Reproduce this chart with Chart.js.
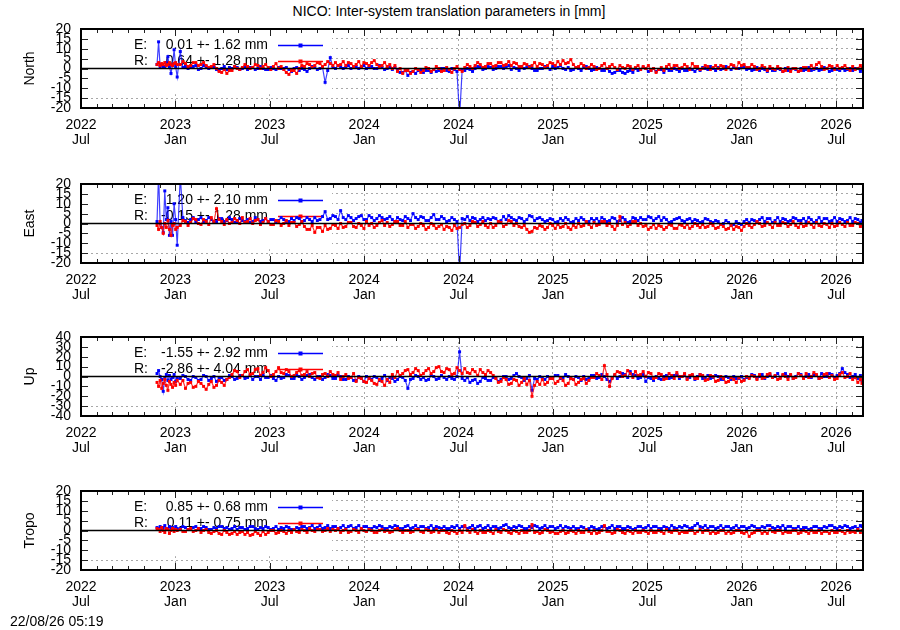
<!DOCTYPE html>
<html>
<head>
<meta charset="utf-8">
<title>NICO inter-system translation</title>
<script src="https://cdn.jsdelivr.net/npm/chart.js@4.4.0/dist/chart.umd.min.js"></script>
<style>
  body { margin: 0; background: #fff; }
  #wrap { position: relative; width: 900px; height: 630px; font-family: "Liberation Sans", Arial, sans-serif; color: #000; }
  #wrap canvas { position: absolute; left: 0; }
  .title { position: absolute; left: 0; top: 3px; width: 898px; text-align: center; font-size: 14px; }
  .stamp { position: absolute; left: 10px; top: 613px; font-size: 14px; }
</style>
</head>
<body>
<div id="wrap">
  <div class="title">NICO: Inter-system translation parameters in [mm]</div>
  <canvas id="cNorth" width="900" height="154" style="top:9px"></canvas>
  <canvas id="cEast" width="900" height="154" style="top:164px"></canvas>
  <canvas id="cUp" width="900" height="154" style="top:317px"></canvas>
  <canvas id="cTropo" width="900" height="154" style="top:471px"></canvas>
  <div class="stamp">22/08/26 05:19</div>
</div>
<script>
// sample dates, in days since 2022-07-01
const mainDay = [147,150,153,156,159,162,165,168,171,174,177,180,183,186,
  192,202,212,222,232,242,252,262,272,282,
  292,302,312,322,332,342,352,362,372,382,
  392,402,412,422,432,442,452,462,472,482,
  492,502,512,522,532,542,552,562,572,582,
  592,602,612,622,632,642,652,662,672,682,
  692,702,712,722,732,742,752,762,772,782,
  792,802,812,822,832,842,852,862,872,882,
  892,902,912,922,932,942,952,962,972,982,
  992,1002,1012,1022,1032,1042,1052,1062,1072,1082,
  1092,1102,1112,1122,1132,1142,1152,1162,1172,1182,
  1192,1202,1212,1222,1232,1242,1252,1262,1272,1282,
  1292,1302,1312,1322,1332,1342,1352,1362,1372,1382,
  1392,1402,1412,1422,1432,1442,1452,1462,1472,1482,
  1492,1502,1510];
// in-between dates
const midDay = [197,207,217,227,237,247,257,267,277,287,
  297,307,317,327,337,347,357,367,377,387,
  397,407,417,427,437,447,457,467,477,487,
  497,507,517,527,537,547,557,567,577,587,
  597,607,617,627,637,647,657,667,677,687,
  697,707,717,727,737,747,757,767,777,787,
  797,807,817,827,837,847,857,867,877,887,
  897,907,917,927,937,947,957,967,977,987,
  997,1007,1017,1027,1037,1047,1057,1067,1077,1087,
  1097,1107,1117,1127,1137,1147,1157,1167,1177,1187,
  1197,1207,1217,1227,1237,1247,1257,1267,1277,1287,
  1297,1307,1317,1327,1337,1347,1357,1367,1377,1387,
  1397,1407,1417,1427,1437,1447,1457,1467,1477,1487,
  1497,1507];

const xTickDays = [0, 182.5, 365, 547.5, 730, 912.5, 1095, 1277.5, 1460];
const xTickLabels = [['2022','Jul'],['2023','Jan'],['2023','Jul'],['2024','Jan'],['2024','Jul'],
  ['2025','Jan'],['2025','Jul'],['2026','Jan'],['2026','Jul']];

// North [mm]
const northE = [2,13.5,1,2,0.5,1,3,6,1,-2.5,2,9.5,1,-4.3,
  8.6,1,0.5,1.5,0,1,0.5,-0.5,0,-0.5,
  0,0.5,0,-0.5,0.5,0,0,-0.5,0,0.5,
  0,-0.5,0,-1,-0.5,0,0.5,0,-7,5.5,
  0,1,0.5,0,1,0.5,0,1,0,0.5,
  0,-0.5,-1,-2,-3.5,-1.5,-1,-2,-1,-0.5,
  -1,0,-1.5,-0.5,-25,-1,-0.5,0,0.5,0,
  0.5,0,1,0.5,-0.5,0,1,0.5,0,-1,
  0,0.5,1,0.5,0,0.5,-0.5,0,0.5,0,
  -0.5,0,-1,-1.5,-2,-1,-2.5,-1,0,-0.5,
  0,-1,-1.5,-0.5,0,-1,-0.5,0,-1,-0.5,
  0,0.5,-0.5,0,0.5,0,0.5,1,0,0.5,
  0,-0.5,-1,-0.5,0,-1,-0.5,0,-1,-0.5,
  0,-0.5,-1,0,-0.5,0,-1,-0.5,0,-0.5,
  -1,0,-0.5];
const northEMid = [0.5,0,1,-0.5,1.5,0,0.5,-1,1,0.5,
  1,-0.5,0.5,0.5,-0.5,1,-0.5,0.5,-0.5,0,
  0.5,-1.5,0.5,0,-1.5,1,-0.5,0.5,-1,0.5,
  1.5,0,1.5,1,0,1.5,1,0,1.5,-0.5,
  0.5,0.5,-2,-1,-2,-2.5,-0.5,-1,-2,-1.5,
  0,-1,0,-1.5,-0.5,0,-1.5,1,-0.5,1,
  -0.5,1,0,1.5,0.5,-1,0,1,-1,0,
  1,-0.5,0,1.5,-0.5,-1,0.5,-1,1,-1,
  0.5,-1,0,-2.5,-1,-2,-1.5,-2,-1,0.5,
  -1.5,0,-0.5,-2,-1,0,-1.5,-1,0,-1.5,
  -1,0,1,-1,-0.5,1,-0.5,0,1,-0.5,
  -1,0.5,0,-1.5,-1,0,-1.5,-1,0,-1.5,
  -1,0.5,-0.5,-1,0.5,-1.5,0,-1,-1,0,
  0,-1.5];
const northR = [2,3,1.5,2.5,2,3,1.5,2,3,2,1.5,2.5,3,2,
  2,2.5,1.5,3,2,1.5,1,0,-2,-2.5,
  -1,0,0.5,1,0.5,1.5,1,0.5,1,0,
  -0.5,-3,-1,0,1,2,1.5,2.5,2,2.5,
  3,2,1.5,2.5,2,1,2.5,3,2,1.5,
  1,0,-1.5,-2.5,-1,-1.5,-0.5,-1,0,-0.5,
  0,-1,-0.5,0,-0.5,0.5,1,1.5,2,1,
  2.5,1.5,3,2,1.5,2.5,1,2,1.5,1,
  2,1.5,2.5,3.5,4,3,2,1,1.5,0.5,
  1,0,2.5,1,0.5,1.5,0,1,0.5,-0.5,
  0,-1,-2,0.5,1,0,1.5,0.5,1,2.5,
  1,0,1,0.5,0,1,0.5,1.5,3,2,
  0.5,1,0,0.5,1,-0.5,0,-1,-1.5,0,
  -1,0.5,1.5,2,1,0,1,1.5,0.5,0,
  1,0,0.5];
const northRMid = [3.5,1,3,1.5,3,0.5,2,-1.5,-0.5,-1,
  1,-0.5,2,0,2,0,2,-0.5,2.5,1,
  -2,-1,-2.5,1.5,2.5,0.5,3,1,3.5,1.5,
  1.5,3.5,3,1,3.5,3,1.5,4,1,3,
  2,1.5,0,-1,-2.5,0,-2,0.5,-1.5,1,
  -1.5,0.5,-2,1,-1.5,2,0,3,0.5,2.5,
  1,3,1.5,3.5,3,1,2.5,0.5,3,2.5,
  0.5,3,1.5,2,2.5,4.5,0.5,2.5,0,2,
  -0.5,1.5,0,2,-0.5,0.5,1.5,-0.5,1.5,1,
  1.5,0,-0.5,-1,2,1.5,0,2,-0.5,1,
  -0.5,1.5,-0.5,1.5,1.5,-0.5,2,0,1.5,0.5,
  2,-0.5,1.5,-1,0,1,-1.5,0.5,0,-1.5,
  0.5,-1,0,3,-0.5,1.5,-0.5,0,1.5,-1,
  -0.5,1.5];

// East [mm]
const eastE = [1,25,0,-2,-4.5,16.5,2,8,-6,1,-6,10,2,-11,
  24,1.5,2,1,3,1.5,2,1,2.5,1.5,
  2,1,1.5,2,1,2,1.5,1,2,1.5,
  2,1,1.5,2.5,1.5,2,3,2,6,2.5,
  3.5,6.5,2,3,2.5,4,2,3,2.5,3,
  2.5,2,3,1.5,2.5,5,2,3,1.5,4.5,
  2,2.5,1.5,2,-25,2,1.5,2.5,2,1.5,
  2,2.5,1.5,2,3,1.5,2.5,2,3.5,2.5,
  2,1.5,2,1,1.5,2,1,1.5,2,1,
  1.5,1,2,1.5,2.5,1.5,2,1,2.5,3,
  2,3,2.5,1.5,2,1,2.5,1.5,2,1,
  1.5,1,2,0.5,1,0,0.5,-0.5,0,1,
  0.5,1.5,2,1,2.5,1.5,1,2,1.5,2.5,
  1.5,1,2,1.5,1,2.5,1.5,1,2,1.5,
  1,2,1.5];
const eastEMid = [3,0.5,3,2,1,3,0.5,2.5,1,3,
  0.5,2.5,1,0.5,3,1,2.5,2,0.5,3,
  1,2.5,3,1,3,1,1.5,3.5,2,4,
  2,3,4,1.5,3.5,2,4,1.5,4,2,
  3.5,1,2,3.5,1.5,3,3.5,1.5,3,2,
  3.5,1,3,1,2.5,3.5,3,1,3,2.5,
  3,1,3.5,4,2,3,1,4,1.5,3,
  1,2.5,0.5,2.5,3,0.5,2.5,3,0.5,2.5,
  2.5,3,1,3,1,3,0.5,3,1.5,2,
  3.5,1.5,3.5,3,0.5,2,3,1,2.5,2,
  0.5,2.5,1,1.5,-0.5,1.5,-1,1,-0.5,2,
  2,0.5,3,2.5,0.5,3,2.5,1,3,1.5,
  2.5,3,0.5,3,2.5,1,3,2.5,1,3,
  2.5,0.5];
const eastR = [-1,-3,1,-2,-5,0,-2,1.5,-3,-6,-1,0,-3,-2,
  -1,1,0.5,2,-0.5,1,3,7.5,1,2,
  0.5,1.5,3,1,0,2,0.5,1,-0.5,1,
  0,-1,0.5,-0.5,-1.5,-3,-4.5,-2,-1,-2.5,
  -1,0,-1.5,0.5,-2,-1,1,0,-1,1.5,
  0.5,-0.5,1,-1,-2,-0.5,-1.5,-1,-2,-1,
  -1.5,-3,-2,-1,-2,0,-1,0.5,-0.5,-1,
  0,-1,0.5,-0.5,1,0,-2,-3,-4,-2.5,
  -1.5,-2,-1,-0.5,-1.5,-2,-1,0,-1,-0.5,
  0.5,-0.5,1,0,-3,3.5,0.5,-0.5,1,0,
  -1,-2,-2.5,-1.5,-2,-1,-2.5,-1,-0.5,-1.5,
  -1,-0.5,-1.5,-1,-2,-1.5,-2.5,-3,-2,-1.5,
  -1,-0.5,0,-1,-0.5,0.5,-1,0,-0.5,-1,
  0,-1,-0.5,0.5,-1.5,-0.5,0,-1,-0.5,0.5,
  -1,0,-0.5];
const eastRMid = [1.5,-1,2.5,0,2,-0.5,1,2,-0.5,0,
  2.5,0,0.5,2.5,1.5,-0.5,2.5,-0.5,1.5,-1,
  1.5,0.5,-1.5,1,-3,-1,-2,-4,-3,-0.5,
  -2.5,-2,0.5,-1.5,0,-2.5,-1,-2,0.5,-1,
  -1.5,1,-1,1,-0.5,-2.5,0,-3,0,-2.5,
  -0.5,-1.5,-3.5,-2.5,-0.5,-2,1,-1.5,1,-2,
  -2,1,-1.5,1.5,-1,-1.5,-1,-4.5,-2,-1,
  -3,0,-2.5,-2,0,-3,-2,-1.5,1,-2,
  -1,1,-1,-1.5,-1,-0.5,-1.5,1,-1,-1.5,
  -3,-0.5,-1,-3,-0.5,-2.5,-0.5,-2,-2.5,0,
  -2,-2,0,-2.5,-0.5,-3,-1,-1.5,-3.5,0,
  -2,1,-1.5,0.5,-2,-1,0.5,-1.5,1,-2,
  -1.5,0.5,-2,-1,0,-2,-1.5,0.5,-1.5,-1,
  0.5,-1.5];

// Up [mm]
const upE = [3,6,0,-3,-15,-2,2,-4,1,-3,-1,2,-5,-2,
  -2,0,-4,-1,-3,0,-2,-5,-1,-3,
  0,-2,1,-1,-3,0,2,-1,-2,0,
  -1,1,-2,0,-1,2,-3,0,-1,1,
  -2,0,-3,-1,-4,-2,0,-3,-1,-2,
  -4,-2,-3,-1,-12,-2,0,-1,-3,0,
  -2,-1,0,-3,25,-4,-6,-3,-5,-2,
  -4,-1,-3,0,-2,3,-1,-2,-14,-3,
  -1,0,-2,1,-1,0,-3,-1,0,-2,
  1,-1,0,-5,1,0,2,5,1,-1,
  -5,-2,0,-3,1,-1,2,0,-2,1,
  0,-2,1,-1,0,-3,-1,0,-2,-3,
  -1,1,0,-2,2,0,-1,3,1,0,
  2,0,-1,1,3,0,2,1,8,2,
  0,-2,-4];
const upEMid = [1,-3,0,-4,1,-4,0,-2,-4,1,
  -3,1,-2,1,0,-3,-1,1,-4,-2,
  2,-2,1,-3,1,-1,0,-3,2,-2,
  1,-3,0,-4,0,-5,-2,0,-4,1,
  -1,-5,0,-4,-3,1,-3,-4,1,-3,
  1,-3,-2,0,-2,-1,-4,-7,-1,-4,
  -1,-5,0,-3,1,0,-4,1,-2,0,
  -3,-2,1,-2,2,-2,0,-4,-3,1,
  -2,2,-3,-1,-2,3,-1,2,-2,2,
  -1,-4,-2,0,-2,1,-2,2,-1,-3,
  2,-1,-2,1,-3,0,-3,-2,0,-1,
  2,-2,2,0,-1,3,1,0,-2,3,
  -1,2,2,-2,0,3,-1,3,4,-1,
  2,1];
const upR = [-6,-10,-4,-12,-7,-3,-9,-14,-5,-8,-11,-6,-9,-4,
  -8,-12,-6,-10,-7,-13,-5,-9,-6,-3,
  2,5,1,7,3,8,4,6,2,9,
  3,5,1,6,2,0,4,-2,3,5,
  1,-3,2,-1,-5,-2,-6,-4,-8,-5,
  -3,2,5,3,7,4,6,3,8,5,
  10,4,7,3,6,8,3,5,7,2,
  4,-2,-5,-3,-7,-4,-6,-8,-20,-5,
  -3,-6,-2,-5,-4,-7,-3,-6,-2,-4,
  -1,1,11,-10,2,4,1,3,5,2,
  0,3,-1,2,-2,1,4,0,-3,2,
  -2,1,-3,0,-4,-2,-5,-3,-1,-4,
  -2,0,2,-1,3,1,-2,0,2,-1,
  1,3,0,2,-1,3,1,-2,4,0,
  -3,-6,-7];
const upRMid = [-4,-7,-11,-5,-10,-8,-11,-4,-9,-1,
  6,-1,5,2,7,1,9,0,5,4,
  7,0,4,1,5,3,-1,2,0,2,
  4,0,-2,3,-1,-5,-2,-7,-3,-9,
  -6,-1,1,6,2,8,1,6,3,9,
  5,8,2,9,3,4,7,1,4,6,
  1,-6,-1,-8,-3,-9,-2,-4,-9,-8,
  -8,-2,-7,-1,-9,-2,-8,-3,-7,-1,
  3,-3,2,-2,5,0,6,-1,1,5,
  4,-2,3,-3,3,-2,0,3,1,-2,
  2,-4,1,-5,0,-6,-1,-6,-5,0,
  1,-3,-2,2,-1,-3,2,-3,-2,3,
  -2,-1,4,-2,2,-1,-3,2,-1,3,
  -1,-3];

// Tropo [mm]
const tropoE = [1.5,1,2,0.5,1.5,2.5,1,0.5,2,1,1.5,0.5,2,1,
  1,1.5,0.5,2,1,1.5,0.5,1,2,1.5,
  1,0.5,1.5,1,2,0.5,1,1.5,1,0.5,
  1,1.5,0.5,1,2,1.5,1,2.5,1.5,1,
  2,1.5,1,2.5,1.5,1,2,1,1.5,2,
  1,1.5,2,1,2.5,1.5,1,2,1.5,1,
  1.5,2,1,1.5,1,2,1.5,1,2.5,1.5,
  1,2,1.5,3,1,1.5,2,1,1.5,2,
  1.5,1,2,1.5,1,1.5,2,1,1.5,1,
  1.5,1,2,1.5,1,2,1,1.5,1,2,
  1.5,1,2,1,1.5,2.5,1,1.5,2,1.5,
  3.5,1.5,1,2,1.5,1,2,1.5,1,2,
  1.5,2,1,1.5,2.5,1,1.5,1,2,1,
  0.5,1.5,1,2,1,1.5,2.5,1,1.5,2,
  1.5,1,2];
const tropoEMid = [2,0.5,1.5,1,2,0.5,1.5,2,1,0.5,
  2,1.5,0.5,2,1,1.5,2,0.5,2,1.5,
  2,0.5,1.5,2,1,2.5,1.5,1,2.5,2,
  1,2.5,2,1,2.5,2,1,2,2.5,1,
  2,2.5,1,2,1,2.5,2,1,2.5,2,
  1,1,2,2.5,2,1,2.5,2,1,2.5,
  2,1,2.5,1.5,2,2.5,1,2,2.5,1,
  2.5,2,1,2.5,2,1,1,2,0.5,2,
  0.5,2,1,2.5,2,1,2,0.5,2,1,
  2.5,2,1,2,1,1.5,2,2.5,1,2.5,
  2,2.5,2,1,2.5,2,1,2.5,2,1,
  2.5,1,2,2.5,1.5,2,2.5,2,1,2,
  1.5,0.5,2,1,2,2.5,1.5,2,2.5,1,
  2,2.5];
const tropoR = [1,0.5,-0.5,1.5,0,-1,1,0.5,-1.5,0,1,-0.5,0.5,0,
  0.5,-0.5,1,0,-1,0.5,-1.5,0,-2,-1,
  -1.5,-2,-0.5,-1,-2,-1.5,-0.5,-1,0,-1,
  -0.5,0,0.5,-1,0,1,-0.5,0.5,0,-0.5,
  0,-1,0.5,-0.5,0,1,-0.5,0,-1,0.5,
  0,-0.5,1,-1,0,-0.5,0.5,-1,0,-0.5,
  -1,0,-1.5,-0.5,0,2.5,-1,-0.5,0,-1,
  -0.5,0.5,-1,0,-1.5,-0.5,0,-1,3,-0.5,
  -1,0,-0.5,-1.5,0,-1,-0.5,0,-1,-0.5,
  0,-1,2.5,-0.5,-1,0,-1.5,-0.5,0,-1,
  -0.5,0,-1,-0.5,0.5,-1,0,-0.5,-1,0,
  -0.5,-1,0,-0.5,-1,0,-0.5,-1,0,-1.5,
  -3,-1,0,-0.5,0.5,-1,0,-0.5,-1,0,
  -1,-0.5,0,-1,-1.5,-0.5,0,-1,-0.5,0,
  -0.5,0.5,0];
const tropoRMid = [-0.5,0.5,-0.5,1,0,-1,-0.5,-1.5,0,-2,
  -0.5,-1,-2,-2.5,-0.5,-2.5,-2,0,-1.5,0,
  -1.5,-1,-0.5,0.5,-1,0,0.5,-0.5,1,0.5,
  1,0,-1,0.5,-1,0,0.5,-1,0,-0.5,
  -1,0.5,0,0,-1,0.5,-0.5,0.5,-1,0.5,
  0,-1,0,-1.5,-1,0,0.5,-1.5,-1,0,
  -1.5,-0.5,0.5,-1,0,-1.5,-1,0,-1,-1.5,
  0.5,-1,-1.5,-0.5,-1.5,0,-1.5,-1,0.5,-1.5,
  -1.5,0,-0.5,-1.5,0.5,-1,0,-1.5,-1,0,
  -1.5,-1,0,-1.5,-0.5,0,-1.5,-1,0,-1.5,
  0.5,0,-1.5,-1.5,0,-1.5,-1.5,0,-1,-0.5,
  -1.5,0,-1.5,-1.5,-0.5,0,-1.5,-1,0,-1.5,
  0,-1.5,-1,0,-0.5,-1.5,-1,0,-1.5,-1,
  -1,-1];

const legendNorth = ['0.01 +- 1.62 mm', '0.64 +- 1.28 mm'];
const legendEast  = ['1.20 +- 2.10 mm', '-0.15 +- 1.28 mm'];
const legendUp    = ['-1.55 +- 2.92 mm', '-2.86 +- 4.04 mm'];
const legendTropo = ['0.85 +- 0.68 mm', '0.11 +- 0.75 mm'];

const BLUE = '#0000ff', RED = '#ff0000';
const BLUE_LINE = 'rgba(0,0,255,0.75)', RED_LINE = 'rgba(255,0,0,0.8)';
const FONT = '"Liberation Sans", Arial, sans-serif';

Chart.defaults.font.family = FONT;
Chart.defaults.font.size = 14;
Chart.defaults.color = '#000';

// gnuplot look: opaque key box, key, zero axis, heavy border and inward tics
const gnuFrame = {
  id: 'gnuFrame',
  beforeDatasetsDraw(chart, args, opts) {
    const { ctx, chartArea: a } = chart;
    ctx.save();
    ctx.fillStyle = '#fff';
    ctx.fillRect(a.left + 1, a.top + 1, 331 - a.left, (a.bottom - a.top) * 0.8125);
    ctx.font = '14px ' + FONT;
    ctx.textBaseline = 'middle';
    opts.keys.forEach((k, i) => {
      const y = a.top + 16 + i * 16;
      ctx.fillStyle = '#000';
      ctx.textAlign = 'left';
      ctx.fillText(k.tag, 134, y);
      ctx.textAlign = 'right';
      ctx.fillText(k.text, 268, y);
      ctx.strokeStyle = k.color;
      ctx.lineWidth = 1.5;
      ctx.beginPath();
      ctx.moveTo(278, y + 0.5);
      ctx.lineTo(323, y + 0.5);
      ctx.stroke();
      ctx.fillStyle = k.color;
      ctx.fillRect(298.5, y - 1.5, 4, 4);
    });
    ctx.restore();
  },
  afterDatasetsDraw(chart) {
    const { ctx, chartArea: a, scales } = chart;
    const xs = scales.x, ys = scales.y;
    ctx.save();
    // zero axis
    const y0 = ys.getPixelForValue(0);
    ctx.strokeStyle = '#000';
    ctx.lineWidth = 1.5;
    ctx.beginPath();
    ctx.moveTo(a.left, y0);
    ctx.lineTo(a.right, y0);
    ctx.stroke();
    // tics
    ctx.lineWidth = 1;
    ctx.strokeStyle = '#222';
    ctx.beginPath();
    const step = 182.5 / 6;
    for (let k = 0; k * step <= xs.max; k++) {
      const px = Math.round(xs.getPixelForValue(k * step)) + 0.5;
      const len = k % 6 === 0 ? 7 : 4;
      ctx.moveTo(px, a.bottom); ctx.lineTo(px, a.bottom - len);
      ctx.moveTo(px, a.top); ctx.lineTo(px, a.top + len);
    }
    ys.ticks.forEach(t => {
      const py = Math.round(ys.getPixelForValue(t.value)) + 0.5;
      ctx.moveTo(a.left, py); ctx.lineTo(a.left + 7, py);
      ctx.moveTo(a.right, py); ctx.lineTo(a.right - 7, py);
    });
    ctx.stroke();
    // border
    ctx.strokeStyle = '#000';
    ctx.lineWidth = 2;
    ctx.strokeRect(a.left, a.top, a.right - a.left, a.bottom - a.top);
    ctx.restore();
  }
};

// merge the main and in-between readings into one date-ordered series
function points(main, mid) {
  const pts = main.map((v, i) => ({ x: mainDay[i], y: v }))
    .concat(mid.map((v, i) => ({ x: midDay[i], y: v })));
  return pts.sort((p, q) => p.x - q.x);
}

function makePanel(id, label, eVals, eMid, rVals, rMid, legend, yMax, yStep) {
  new Chart(document.getElementById(id), {
    type: 'scatter',
    data: {
      datasets: [
        { label: 'E', data: points(eVals, eMid), order: 2, showLine: true,
          borderColor: BLUE_LINE, borderWidth: 1.2, backgroundColor: BLUE,
          pointStyle: 'rect', pointRadius: 2.1, pointBorderWidth: 0 },
        { label: 'R', data: points(rVals, rMid), order: 1, showLine: true,
          borderColor: RED_LINE, borderWidth: 1.2, backgroundColor: RED,
          pointStyle: 'rect', pointRadius: 2.1, pointBorderWidth: 0 }
      ]
    },
    options: {
      responsive: false,
      animation: false,
      layout: { padding: { top: 20, right: 37, left: 0, bottom: 0 } },
      plugins: {
        legend: { display: false },
        tooltip: { enabled: false },
        gnuFrame: { keys: [
          { tag: 'E:', text: legend[0], color: BLUE },
          { tag: 'R:', text: legend[1], color: RED }
        ] }
      },
      scales: {
        x: {
          type: 'linear', position: 'bottom', min: 0, max: 1512,
          afterBuildTicks: s => { s.ticks = xTickDays.map(v => ({ value: v })); },
          afterFit: s => { s.height = 55; },
          ticks: { autoSkip: false, maxRotation: 0, padding: 10,
            font: { size: 14, lineHeight: 1.07 },
            callback: (v, i) => xTickLabels[i] },
          grid: { color: '#a8a8a8', lineWidth: 1, drawTicks: false },
          border: { display: false, dash: [2, 3] }
        },
        y: {
          min: -yMax, max: yMax,
          afterFit: s => { s.width = 81; },
          ticks: { stepSize: yStep, autoSkip: false, padding: 10 },
          grid: { color: '#a8a8a8', lineWidth: 1, drawTicks: false },
          border: { display: false, dash: [2, 3] },
          title: { display: true, text: label, padding: { top: 22, bottom: 0 } }
        }
      }
    },
    plugins: [gnuFrame]
  });
}

makePanel('cNorth', 'North', northE, northEMid, northR, northRMid, legendNorth, 20, 5);
makePanel('cEast', 'East', eastE, eastEMid, eastR, eastRMid, legendEast, 20, 5);
makePanel('cUp', 'Up', upE, upEMid, upR, upRMid, legendUp, 40, 10);
makePanel('cTropo', 'Tropo', tropoE, tropoEMid, tropoR, tropoRMid, legendTropo, 20, 5);
</script>
</body>
</html>
